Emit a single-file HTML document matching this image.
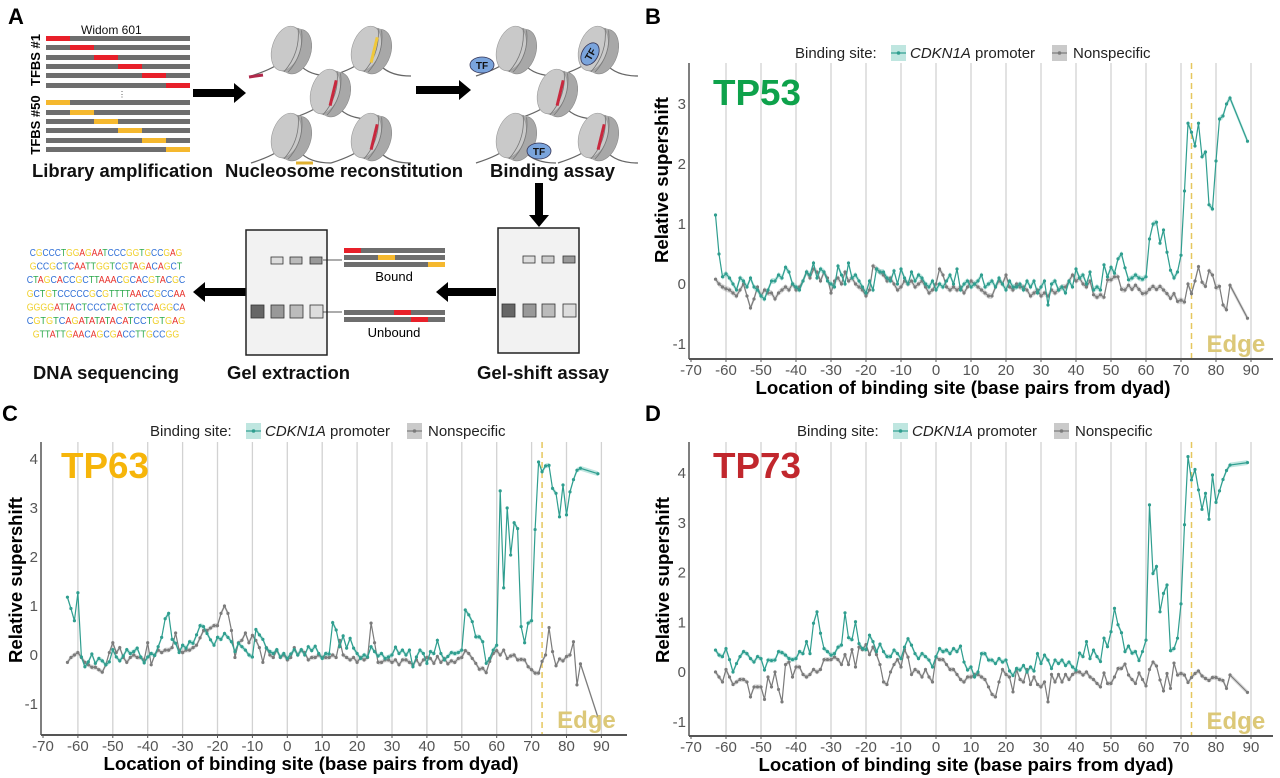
<!DOCTYPE html>
<html><head><meta charset="utf-8">
<style>
html,body{margin:0;padding:0;background:#fff;}
svg{display:block;font-family:"Liberation Sans",Arial,sans-serif;}
.ttl{font-weight:bold;font-size:18px;fill:#111;}
.tick{font-size:15px;fill:#555;}
.leg{font-size:15px;fill:#222;}
</style></head>
<body>
<svg id="fig" width="1280" height="778" viewBox="0 0 1280 778">
<rect width="1280" height="778" fill="#fff"/>
<!-- PANEL A -->
<g id="panelA">
<text x="8" y="24" font-size="22" font-weight="bold">A</text>
<text x="81" y="34" font-size="12" fill="#111">Widom 601</text>
<text transform="translate(40,60) rotate(-90)" text-anchor="middle" font-size="13" font-weight="bold">TFBS #1</text>
<text transform="translate(40,125) rotate(-90)" text-anchor="middle" font-size="13" font-weight="bold">TFBS #50</text>
<g id="libBars"></g>
<text x="118" y="97" font-size="8" fill="#444">⋮</text>
<text x="32" y="177" class="ttl" textLength="181" lengthAdjust="spacingAndGlyphs">Library amplification</text>
<text x="225" y="177" class="ttl" textLength="238" lengthAdjust="spacingAndGlyphs">Nucleosome reconstitution</text>
<text x="490" y="177" class="ttl" textLength="125" lengthAdjust="spacingAndGlyphs">Binding assay</text>
<text x="33" y="379" class="ttl" textLength="146" lengthAdjust="spacingAndGlyphs">DNA sequencing</text>
<text x="227" y="379" class="ttl" textLength="123" lengthAdjust="spacingAndGlyphs">Gel extraction</text>
<text x="477" y="379" class="ttl" textLength="132" lengthAdjust="spacingAndGlyphs">Gel-shift assay</text>
<g id="nucs"></g>
<g fill="#000">
<polygon points="193,89 234,89 234,83 246,93 234,103 234,97 193,97"/>
<polygon points="416,86 459,86 459,80 471,90 459,100 459,94 416,94"/>
<polygon points="535,183 543,183 543,215 549,215 539,227 529,215 535,215"/>
<polygon points="496,288 448,288 448,282 436,292 448,302 448,296 496,296"/>
<polygon points="246,288 205,288 205,282 193,292 205,302 205,296 246,296"/>
</g>
<g>
<rect x="498" y="228" width="81" height="125" fill="#f2f2f2" stroke="#222" stroke-width="1.5"/>
<rect x="523" y="256" width="12" height="7" fill="#ddd" stroke="#333" stroke-width="0.8"/>
<rect x="542" y="256" width="12" height="7" fill="#ccc" stroke="#333" stroke-width="0.8"/>
<rect x="563" y="256" width="12" height="7" fill="#999" stroke="#333" stroke-width="0.8"/>
<rect x="502" y="304" width="13" height="13" fill="#666" stroke="#333" stroke-width="0.8"/>
<rect x="523" y="304" width="13" height="13" fill="#999" stroke="#333" stroke-width="0.8"/>
<rect x="542" y="304" width="13" height="13" fill="#bbb" stroke="#333" stroke-width="0.8"/>
<rect x="563" y="304" width="13" height="13" fill="#ddd" stroke="#333" stroke-width="0.8"/>
</g>
<g>
<rect x="246" y="230" width="81" height="125" fill="#f2f2f2" stroke="#222" stroke-width="1.5"/>
<rect x="271" y="257" width="12" height="7" fill="#ddd" stroke="#333" stroke-width="0.8"/>
<rect x="290" y="257" width="12" height="7" fill="#bbb" stroke="#333" stroke-width="0.8"/>
<rect x="310" y="257" width="12" height="7" fill="#999" stroke="#333" stroke-width="0.8"/>
<rect x="251" y="305" width="13" height="13" fill="#666" stroke="#333" stroke-width="0.8"/>
<rect x="271" y="305" width="13" height="13" fill="#999" stroke="#333" stroke-width="0.8"/>
<rect x="290" y="305" width="13" height="13" fill="#bbb" stroke="#333" stroke-width="0.8"/>
<rect x="310" y="305" width="13" height="13" fill="#ddd" stroke="#333" stroke-width="0.8"/>
<line x1="323" y1="260" x2="342" y2="260" stroke="#222" stroke-width="0.8"/>
<line x1="323" y1="312" x2="342" y2="312" stroke="#222" stroke-width="0.8"/>
</g>
<g>
<rect x="344" y="248" width="101" height="5" fill="#6e6e6e"/><rect x="344" y="248" width="17" height="5" fill="#e8202a"/>
<rect x="344" y="255" width="101" height="5" fill="#6e6e6e"/><rect x="378" y="255" width="17" height="5" fill="#f5b82e"/>
<rect x="344" y="262" width="101" height="5" fill="#6e6e6e"/><rect x="428" y="262" width="17" height="5" fill="#f5b82e"/>
<text x="394" y="281" text-anchor="middle" font-size="13">Bound</text>
<rect x="344" y="310" width="101" height="5" fill="#6e6e6e"/><rect x="394" y="310" width="17" height="5" fill="#e8202a"/>
<rect x="344" y="317" width="101" height="5" fill="#6e6e6e"/><rect x="411" y="317" width="17" height="5" fill="#e8202a"/>
<text x="394" y="337" text-anchor="middle" font-size="13">Unbound</text>
</g>
<g id="seq"></g>
</g>

<g id="panelB"></g>
<g id="panelC"></g>
<g id="panelD"></g>
</svg>
<script>
// binding site locations (bp from dyad): -63..84 and 89
const locations = [];
for (let v = -63; v <= 84; v++) locations.push(v);
locations.push(89);
const xTicks = [-70,-60,-50,-40,-30,-20,-10,0,10,20,30,40,50,60,70,80,90];
const yTicksB = [-1,0,1,2,3];
const yTicksCD = [-1,0,1,2,3,4];
const edgeLocation = 73;

const tp53Cdkn1a = [1.15,0.5,0.12,0.17,0.1,0.0,-0.1,0.1,0.05,-0.05,
0.1,-0.05,-0.1,-0.2,-0.25,-0.1,0.05,0.05,0.15,0.1,
0.28,0.2,0.0,-0.05,-0.1,0.05,0.2,0.15,0.35,0.1,
0.25,0.2,0.05,0.0,-0.05,0.3,0.15,0.0,0.35,0.1,
0.15,0.05,-0.05,-0.15,0.05,-0.1,0.25,0.2,0.2,0.1,
0.05,0.22,0.0,0.25,0.1,0.0,0.2,0.05,0.15,0.1,
0.0,-0.05,0.05,-0.1,0.0,-0.05,0.05,0.15,0.0,0.25,
-0.1,0.0,0.05,-0.05,0.0,0.05,0.15,-0.05,0.0,0.05,
-0.05,0.1,0.0,-0.1,0.05,-0.05,-0.05,0.0,-0.1,0.05,
-0.05,0.05,-0.15,-0.05,0.05,-0.35,0.0,0.05,-0.1,-0.05,
-0.15,0.05,-0.05,0.25,0.1,0.15,0.0,0.2,-0.1,-0.05,
-0.1,0.32,0.12,0.28,0.18,0.42,0.5,0.27,0.07,0.1,
0.15,0.1,0.08,0.12,0.75,1.0,1.03,0.68,0.9,0.53,
0.23,0.1,0.2,0.48,1.55,2.68,2.53,2.3,2.68,2.12,
2.2,1.32,1.25,2.05,2.75,2.8,3.0,3.1,2.38];
const tp53Nonspecific = [0.08,0.0,-0.05,-0.08,-0.1,-0.15,-0.2,-0.1,0.0,-0.2,
-0.4,-0.25,-0.05,-0.2,-0.1,-0.15,-0.15,-0.25,-0.15,-0.1,
-0.05,-0.1,0.0,-0.1,-0.05,0.05,0.2,0.1,0.25,0.2,
0.05,0.2,0.1,-0.15,0.05,0.1,0.0,0.2,0.05,0.1,
0.0,-0.05,-0.1,-0.2,-0.1,0.3,0.25,0.2,0.15,0.05,
0.1,0.0,-0.1,-0.05,0.05,0.0,0.05,-0.05,0.0,0.05,
-0.05,-0.15,-0.1,0.0,0.25,0.15,-0.05,-0.1,-0.05,-0.1,
-0.05,-0.15,-0.05,0.05,0.0,-0.05,-0.1,-0.15,-0.2,-0.2,
-0.05,0.05,0.0,0.15,-0.05,-0.1,0.0,-0.05,-0.05,-0.1,
-0.2,-0.15,-0.1,-0.2,-0.15,-0.2,-0.1,-0.15,-0.1,-0.05,
-0.05,0.05,0.15,0.05,0.1,0.0,-0.05,0.05,-0.18,-0.22,
-0.18,-0.22,0.07,0.07,0.12,0.12,-0.09,-0.1,-0.02,-0.09,
-0.02,-0.09,-0.16,-0.15,-0.09,-0.04,-0.09,-0.04,-0.1,-0.16,
-0.24,-0.16,-0.29,-0.27,-0.3,0.0,-0.16,0.05,0.29,0.03,
-0.04,0.22,0.15,-0.06,-0.04,-0.35,-0.43,-0.02,-0.57];

const tp63Cdkn1a = [1.18,0.95,0.7,1.27,-0.04,-0.24,-0.14,0.02,-0.17,-0.07,
-0.12,-0.2,-0.14,0.11,-0.04,-0.12,-0.02,0.11,0.03,0.07,
0.14,-0.04,-0.16,-0.04,0.03,-0.01,0.17,0.36,0.74,0.85,
0.32,0.24,0.05,0.2,0.14,0.27,0.24,0.41,0.6,0.58,
0.44,0.31,0.2,0.36,0.32,0.44,0.36,0.27,0.07,0.24,
0.17,0.1,0.0,-0.04,0.52,0.41,0.32,0.14,0.07,0.03,
0.11,-0.04,0.03,-0.07,0.02,0.11,0.0,0.11,0.0,0.17,
0.09,0.18,0.03,-0.07,0.03,0.02,0.66,0.51,0.17,0.39,
0.14,0.34,0.14,0.03,-0.07,0.0,-0.04,0.17,0.07,-0.02,
0.03,-0.07,-0.04,0.0,0.16,0.03,0.1,0.0,0.1,-0.24,
-0.04,0.1,0.03,-0.17,0.07,0.03,0.3,0.03,-0.1,-0.03,
0.05,0.03,0.05,0.1,0.92,0.82,0.68,0.37,0.37,0.27,
-0.17,-0.07,0.1,0.2,3.35,1.37,3.0,2.04,2.7,2.58,
0.58,0.25,0.65,0.7,2.56,3.94,3.74,3.86,3.87,3.4,
3.3,2.82,3.47,2.86,3.33,3.58,3.77,3.81,3.7];
const tp63Nonspecific = [-0.15,-0.05,0.0,0.05,-0.05,-0.15,-0.2,-0.25,-0.25,-0.3,
-0.35,-0.2,0.05,0.25,0.05,0.15,-0.05,-0.15,-0.05,0.0,
-0.05,-0.05,-0.1,0.25,-0.2,0.0,0.1,0.05,0.1,0.1,
0.15,0.45,0.1,0.05,0.1,0.1,0.15,0.2,0.35,0.5,
0.5,0.55,0.6,0.6,0.85,1.0,0.85,0.5,-0.05,0.25,
0.3,0.45,0.25,0.4,0.3,0.15,-0.15,0.15,0.0,-0.05,
0.1,-0.05,0.0,-0.1,-0.05,0.15,0.0,0.1,0.05,-0.1,
-0.05,-0.05,0.0,-0.05,-0.05,-0.05,0.0,-0.05,0.3,0.0,
-0.05,-0.1,-0.05,-0.15,-0.05,-0.1,-0.05,0.65,0.25,-0.15,
-0.15,-0.1,-0.1,-0.15,-0.1,-0.2,-0.1,-0.1,-0.15,-0.2,
-0.1,-0.2,-0.1,-0.05,-0.07,-0.17,-0.03,-0.15,-0.07,-0.18,
-0.12,-0.15,-0.07,-0.05,0.09,0.03,-0.07,-0.17,-0.29,-0.27,
-0.36,-0.13,0.03,0.09,0.0,0.1,-0.07,-0.02,0.0,-0.1,
-0.09,-0.1,-0.24,-0.3,-0.37,-0.37,-0.13,0.0,0.56,0.07,
-0.22,-0.08,-0.12,-0.03,0.0,0.27,-0.61,-0.18,-1.27];

const tp73Cdkn1a = [0.44,0.34,0.31,0.47,0.25,0.0,0.17,0.31,0.41,0.37,
0.27,0.2,0.31,0.27,0.04,0.24,0.23,0.24,0.41,0.39,
0.34,0.27,0.25,0.27,0.41,0.37,0.61,0.37,0.98,1.21,
0.78,0.47,0.41,0.34,0.37,0.5,0.54,1.19,0.69,0.65,
1.01,0.57,0.47,0.45,0.74,0.61,0.41,0.56,0.41,0.31,
0.31,0.44,0.37,0.27,0.5,0.67,0.54,0.37,0.27,0.37,
0.31,0.24,0.1,0.31,0.47,0.41,0.44,0.37,0.47,0.41,
0.52,0.2,0.04,0.1,-0.1,0.0,0.37,0.37,0.24,0.24,
0.17,0.27,0.2,0.24,0.02,-0.07,0.07,0.04,0.13,0.0,
0.1,0.02,0.37,0.17,0.34,0.24,0.07,0.24,0.17,0.24,
0.13,0.2,0.1,0.04,0.38,0.31,0.61,0.27,0.44,0.31,
0.21,0.68,0.51,0.81,1.28,0.95,0.79,0.41,0.52,0.38,
0.41,0.23,0.41,0.64,3.36,1.98,2.12,1.21,1.58,1.75,
0.43,0.47,0.68,1.37,2.96,4.33,3.86,4.07,3.66,3.27,
3.59,3.07,3.96,3.41,3.64,3.87,4.05,4.16,4.21];
const tp73Nonspecific = [0.0,-0.1,-0.2,0.05,-0.1,-0.25,-0.2,-0.15,-0.15,-0.2,
-0.5,-0.3,-0.3,-0.3,-0.55,-0.1,-0.3,0.0,-0.35,-0.6,
0.15,0.2,-0.1,0.1,0.1,-0.05,-0.1,-0.05,0.05,0.0,
0.05,0.25,0.25,0.25,0.3,0.25,0.15,0.35,0.15,0.45,
0.1,0.5,0.45,0.55,0.35,0.5,0.35,0.15,-0.2,-0.25,
0.0,0.15,0.25,0.1,0.45,0.3,-0.05,0.05,0.0,-0.1,
0.05,-0.1,-0.2,0.3,0.25,0.25,0.15,0.05,0.05,-0.05,
-0.15,-0.2,-0.1,-0.1,-0.05,-0.05,-0.1,-0.15,-0.3,-0.45,
-0.5,-0.2,0.05,-0.05,-0.1,-0.4,0.05,-0.15,-0.2,0.05,
-0.25,-0.1,-0.25,-0.3,-0.2,-0.6,-0.05,-0.2,-0.05,-0.2,
-0.05,-0.15,-0.05,0.0,0.0,-0.06,0.0,-0.1,-0.15,-0.23,
-0.3,-0.02,-0.23,-0.23,-0.1,0.07,0.07,0.16,-0.06,-0.15,
-0.23,-0.02,-0.15,-0.28,0.05,0.2,0.12,-0.16,-0.38,-0.03,
-0.33,0.18,-0.06,-0.03,-0.06,-0.21,-0.11,-0.03,0.02,-0.08,
-0.13,-0.17,-0.11,-0.11,-0.15,-0.17,-0.33,-0.06,-0.41];

const NS = "http://www.w3.org/2000/svg";
function mk(tag, attrs, parent){ const e=document.createElementNS(NS,tag); for(const k in attrs) e.setAttribute(k,attrs[k]); if(parent) parent.appendChild(e); return e; }

const TEAL = "#2f9e8f", TEALF = "rgba(60,180,160,0.33)", GRAY = "#7b7b7b", GRAYF = "rgba(150,150,150,0.35)";
const BAND = 0.05;

function drawChart(g, cfg, green, gray, yTicks){
  const X = v => cfg.x0 + (v + 70) * cfg.ux;
  const Y = v => cfg.y0 - v * cfg.uy;
  xTicks.forEach(t => {
    if (t === -70) return;
    const l = mk("line",{x1:X(t),x2:X(t),y1:cfg.top,y2:cfg.bottom,stroke:"#d2d2d2","stroke-width":1.3},g);
    
    
  });
  const ed = mk("line",{x1:X(edgeLocation),x2:X(edgeLocation),y1:cfg.top,y2:cfg.bottom,stroke:"#e6c75e","stroke-width":1.5,"stroke-dasharray":"6,4"},g);
  
  
  [[gray,GRAY,GRAYF,'nonspecific'],[green,TEAL,TEALF,'cdkn1a']].forEach(([arr,col,fill,nm]) => {
    let up="", dn="";
    locations.forEach((v,i)=>{ up += (i?"L":"M")+X(v).toFixed(1)+","+Y(arr[i]+BAND).toFixed(1); });
    for(let i=locations.length-1;i>=0;i--){ dn += "L"+X(locations[i]).toFixed(1)+","+Y(arr[i]-BAND).toFixed(1); }
    const rib = mk("path",{d:up+dn+"Z",fill:fill,stroke:"none"},g);
    
    
    let d="";
    locations.forEach((v,i)=>{ d += (i?"L":"M")+X(v).toFixed(1)+","+Y(arr[i]).toFixed(1); });
    const ln = mk("path",{d:d,fill:"none",stroke:col,"stroke-width":1.2},g);
    
    
    locations.forEach((v,i)=>{
      const c = mk("circle",{cx:X(v),cy:Y(arr[i]),r:1.6,fill:col},g);
      
      
    });
  });
  const ax = mk("line",{x1:cfg.left,x2:cfg.right,y1:cfg.bottom,y2:cfg.bottom,stroke:"#555","stroke-width":2},g);
  
  
  const ay = mk("line",{x1:cfg.left,x2:cfg.left,y1:cfg.top,y2:cfg.bottom,stroke:"#555","stroke-width":1.5},g);
  
  
  xTicks.forEach(t => {
    const tk = mk("line",{x1:X(t),x2:X(t),y1:cfg.bottom,y2:cfg.bottom+3,stroke:"#555"},g);
    
    
    const tx = mk("text",{x:X(t),y:cfg.bottom+16,"text-anchor":"middle",class:"tick"},g);
    tx.textContent = String(t);
    
    
  });
  yTicks.forEach(t => {
    const tx = mk("text",{x:cfg.left-3,y:Y(t)+5,"text-anchor":"end",class:"tick"},g);
    tx.textContent = String(t);
    
    
  });
  const xt = mk("text",{x:cfg.xTitleX,y:cfg.bottom+35,"text-anchor":"middle","font-size":18,"font-weight":"bold",textLength:415,lengthAdjust:"spacingAndGlyphs"},g);
  xt.textContent = "Location of binding site (base pairs from dyad)";
  
  
  const yt = mk("text",{transform:`translate(${cfg.yTitleX},${cfg.yTitleY}) rotate(-90)`,"text-anchor":"middle","font-size":18,"font-weight":"bold",textLength:166,lengthAdjust:"spacingAndGlyphs"},g);
  yt.textContent = "Relative supershift";
  
  
  const eg = mk("text",{x:X(edgeLocation)+15,y:cfg.bottom-7,"font-size":24,"font-weight":"bold",fill:"#dcc878"},g);
  eg.textContent = "Edge";
  
  
  const pl = mk("text",{x:cfg.protX,y:cfg.protY,"font-size":36,"font-weight":"bold",fill:cfg.protColor,textLength:88,lengthAdjust:"spacingAndGlyphs"},g);
  pl.textContent = cfg.prot;
  
  
  const pn = mk("text",{x:cfg.panelX,y:cfg.panelY,"font-size":22,"font-weight":"bold"},g);
  pn.textContent = cfg.panel;
  
  
  const lg = mk("g",{},g);
  
  
  const ly = cfg.legY;
  const t1 = mk("text",{x:cfg.legX,y:ly+5,class:"leg"},lg); t1.textContent="Binding site:";
  
  
  const k1 = mk("g",{},lg);
  
  
  mk("rect",{x:cfg.legX+96,y:ly-8,width:15,height:16,fill:TEALF},k1);
  mk("line",{x1:cfg.legX+96,x2:cfg.legX+111,y1:ly,y2:ly,stroke:TEAL,"stroke-width":1.2},k1);
  mk("circle",{cx:cfg.legX+103.5,cy:ly,r:1.8,fill:TEAL},k1);
  const t2 = mk("text",{x:cfg.legX+115,y:ly+5,class:"leg"},k1);
  t2.innerHTML = '<tspan font-style="italic">CDKN1A</tspan> promoter';
  const k2 = mk("g",{},lg);
  
  
  mk("rect",{x:cfg.legX+257,y:ly-8,width:15,height:16,fill:"rgba(150,150,150,0.5)"},k2);
  mk("line",{x1:cfg.legX+257,x2:cfg.legX+272,y1:ly,y2:ly,stroke:GRAY,"stroke-width":1.2},k2);
  mk("circle",{cx:cfg.legX+264.5,cy:ly,r:1.8,fill:GRAY},k2);
  const t3 = mk("text",{x:cfg.legX+278,y:ly+5,class:"leg"},k2);
  t3.textContent = "Nonspecific";
}

drawChart(document.getElementById("panelB"),
 {x0:691,ux:3.5,y0:284,uy:60,top:63,bottom:359,left:689,right:1273,xTitleX:963,yTitleX:668,yTitleY:180,
  prot:"TP53",protColor:"#0ea24b",protX:713,protY:105,panel:"B",panelX:645,panelY:24,legX:795,legY:53},
 tp53Cdkn1a, tp53Nonspecific, yTicksB);
drawChart(document.getElementById("panelC"),
 {x0:43,ux:3.49,y0:655,uy:49,top:442,bottom:735,left:41,right:627,xTitleX:311,yTitleX:22,yTitleY:580,
  prot:"TP63",protColor:"#f6b50a",protX:61,protY:478,panel:"C",panelX:2,panelY:421,legX:150,legY:431},
 tp63Cdkn1a, tp63Nonspecific, yTicksCD);
drawChart(document.getElementById("panelD"),
 {x0:691,ux:3.5,y0:672,uy:49.75,top:442,bottom:736,left:689,right:1273,xTitleX:966,yTitleX:669,yTitleY:580,
  prot:"TP73",protColor:"#c1272d",protX:713,protY:478,panel:"D",panelX:645,panelY:421,legX:797,legY:431},
 tp73Cdkn1a, tp73Nonspecific, yTicksCD);

(function(){
  const lb = document.getElementById("libBars");
  const redY=[36,45,55,64,73,83], yelY=[100,110,119,128,138,147];
  redY.forEach((y,i)=>{ mk("rect",{x:46,y:y,width:144,height:5,fill:"#6e6e6e"},lb); mk("rect",{x:46+i*24,y:y,width:24,height:5,fill:"#e8202a"},lb); });
  yelY.forEach((y,i)=>{ mk("rect",{x:46,y:y,width:144,height:5,fill:"#6e6e6e"},lb); mk("rect",{x:46+i*24,y:y,width:24,height:5,fill:"#f5b82e"},lb); });

  const ng = document.getElementById("nucs");
  function nuc(cx,cy,mark,markCol){
    const g = mk("g",{},ng);
    
    
    mk("path",{d:`M${cx-40},${cy+26} Q${cx-15},${cy+18} ${cx-8},${cy+10} M${cx+8},${cy+14} Q${cx+18},${cy+26} ${cx+40},${cy+26}`,fill:"none",stroke:"#666","stroke-width":1.3},g);
    const b = mk("g",{transform:`translate(${cx},${cy}) rotate(18)`},g);
    mk("ellipse",{cx:5,cy:0,rx:15,ry:23,fill:"#a8a8a8",stroke:"#888","stroke-width":0.6},b);
    mk("rect",{x:-5,y:-23,width:10,height:46,fill:"#a8a8a8"},b);
    mk("ellipse",{cx:-5,cy:0,rx:14,ry:23,fill:"#c9c9c9",stroke:"#999","stroke-width":0.6},b);
    mk("path",{d:"M0,-23 Q10,0 0,23 M4,-22 Q14,0 4,22",fill:"none",stroke:"#777","stroke-width":0.8},b);
    if(mark==="face") mk("line",{x1:2,y1:-14,x2:4,y2:12,stroke:markCol,"stroke-width":3},b);
    if(mark==="left") mk("line",{x1:cx-42,y1:cy+27,x2:cx-28,y2:cy+25,stroke:markCol,"stroke-width":3},g);
    if(mark==="bottom") mk("line",{x1:cx+5,y1:cy+26,x2:cx+22,y2:cy+26,stroke:markCol,"stroke-width":3},g);
    return g;
  }
  nuc(291,50,"left","#b0284a"); nuc(371,50,"face","#f0c83a"); nuc(330,93,"face","#c8283e");
  nuc(291,137,"bottom","#e0b030"); nuc(371,137,"face","#c8283e");
  nuc(516,50,null); nuc(598,50,null); nuc(557,93,"face","#c8283e"); nuc(516,137,null); nuc(598,137,"face","#c8283e");
  function tf(x,y,rot){
    const g = mk("g",{transform:`translate(${x},${y}) rotate(${rot})`},ng);
    
    
    mk("ellipse",{cx:0,cy:0,rx:12,ry:8,fill:"#7aa4dc",stroke:"#335","stroke-width":0.8},g);
    const t = mk("text",{x:0,y:4,"text-anchor":"middle","font-size":10,"font-weight":"bold",fill:"#111"},g); t.textContent="TF";
  }
  tf(482,65,0); tf(590,54,-60); tf(539,151,0);

  const seqRows = ["CGCCCTGGAGAATCCCGGTGCCGAG","GCCGCTCAATTGGTCGTAGACAGCT","CTAGCACCGCTTAAACGCACGTACGC","GCTGTCCCCCGCGTTTTAACCGCCAA","GGGGATTACTCCCTAGTCTCCAGGCA","CGTGTCAGATATATACATCCTGTGAG","GTTATTGAACAGCGACCTTGCCGG"];
  const col = {A:"#e8302a",C:"#2f6fd6",G:"#f0d02c",T:"#2aa84a"};
  const sg = document.getElementById("seq");
  seqRows.forEach((r,i)=>{
    const t = mk("text",{x:106,y:256+i*13.6,"text-anchor":"middle","font-size":10.5,textLength:r.length*6.1,lengthAdjust:"spacingAndGlyphs"},sg);
    
    
    for(const ch of r){ const s=mk("tspan",{fill:col[ch]},t); s.textContent=ch; }
  });
})();
</script>
</body></html>
